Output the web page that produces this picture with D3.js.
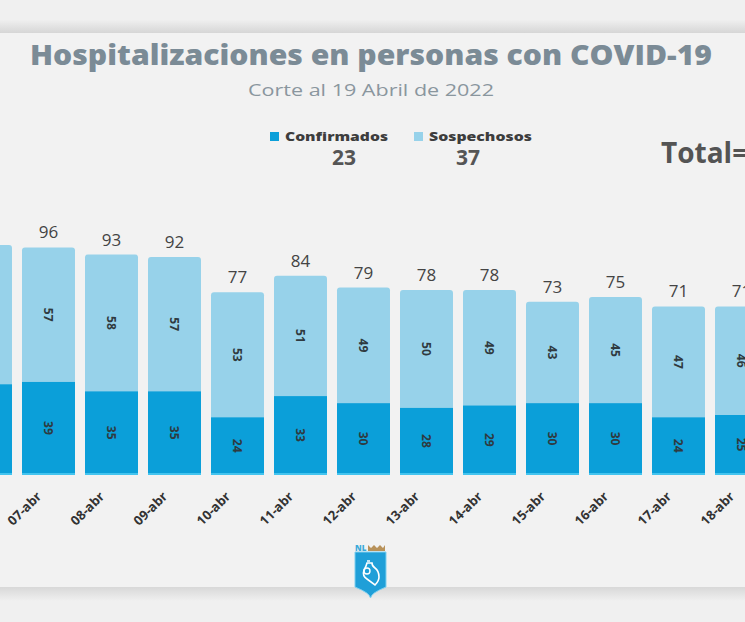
<!DOCTYPE html>
<html>
<head>
<meta charset="utf-8">
<script src="https://cdn.jsdelivr.net/npm/d3@7"></script>
<style>
  html, body { margin: 0; padding: 0; background: #efefef; }
  #graphicContainer { width: 745px; height: 622px; overflow: hidden; }
  text { font-family: "Open Sans", sans-serif; }
</style>
</head>
<body>
<div id="graphicContainer"></div>
<script>
var fechas = ["06-abr", "07-abr", "08-abr", "09-abr", "10-abr", "11-abr", "12-abr", "13-abr", "14-abr", "15-abr", "16-abr", "17-abr", "18-abr", "19-abr"]
var confirmados = [38, 39, 35, 35, 24, 33, 30, 28, 29, 30, 30, 24, 25, 23]
var sospechosos = [59, 57, 58, 57, 53, 51, 49, 50, 49, 43, 45, 47, 46, 37]
var yTicks = [0, 100]

var colorConf = "#0b9fd9"
var colorSosp = "#97d2ea"

var width = 745
var height = 622

var data = fechas.map(function (d, i) {
  return { fecha: d, conf: confirmados[i], sosp: sospechosos[i], total: confirmados[i] + sospechosos[i] }
})
var ultimo = data[data.length - 1]

var svg = d3.select("#graphicContainer").append("svg")
  .attr("width", width)
  .attr("height", height)

var defs = svg.append("defs")
var g1 = defs.append("linearGradient").attr("id", "sombraTop").attr("x1", 0).attr("y1", 0).attr("x2", 0).attr("y2", 1)
g1.append("stop").attr("offset", "0%").attr("stop-color", "#efefef")
g1.append("stop").attr("offset", "100%").attr("stop-color", "#d6d6d6")
var g2 = defs.append("linearGradient").attr("id", "sombraBot").attr("x1", 0).attr("y1", 0).attr("x2", 0).attr("y2", 1)
g2.append("stop").attr("offset", "0%").attr("stop-color", "#d8d8d8")
g2.append("stop").attr("offset", "100%").attr("stop-color", "#f0f0f0")

// fondo / tarjeta
svg.append("rect").attr("x", 0).attr("y", 0).attr("width", width).attr("height", height).attr("fill", "#f0f0f0")
svg.append("rect").attr("x", 0).attr("y", 20).attr("width", width).attr("height", 13).attr("fill", "url(#sombraTop)")
svg.append("rect").attr("x", 0).attr("y", 33).attr("width", width).attr("height", 554).attr("fill", "#f2f2f2")
svg.append("rect").attr("x", 0).attr("y", 587).attr("width", width).attr("height", 14).attr("fill", "url(#sombraBot)")

// titulos
svg.append("text")
  .attr("x", 371).attr("y", 65)
  .attr("text-anchor", "middle")
  .attr("textLength", 682)
  .attr("lengthAdjust", "spacingAndGlyphs")
  .style("font-size", "28px").style("font-weight", 800)
  .attr("fill", "#7b8b96")
  .text("Hospitalizaciones en personas con COVID-19")

svg.append("text")
  .attr("x", 371).attr("y", 96)
  .attr("text-anchor", "middle")
  .attr("textLength", 246)
  .attr("lengthAdjust", "spacingAndGlyphs")
  .style("font-size", "17px")
  .attr("fill", "#8a969e")
  .text("Corte al 19 Abril de 2022")

// leyenda
var leyenda = [
  { nombre: "Confirmados", color: colorConf, valor: ultimo.conf, x: 270, w: 103, cx: 344 },
  { nombre: "Sospechosos", color: colorSosp, valor: ultimo.sosp, x: 414, w: 103, cx: 468 }
]
var key = svg.selectAll(".key").data(leyenda).enter().append("g").attr("class", "key")
key.append("rect")
  .attr("x", d => d.x).attr("y", 132)
  .attr("width", 9).attr("height", 9)
  .attr("fill", d => d.color)
key.append("text")
  .attr("x", d => d.x + 15).attr("y", 141)
  .attr("textLength", d => d.w)
  .attr("lengthAdjust", "spacingAndGlyphs")
  .style("font-size", "12px").style("font-weight", 800)
  .attr("fill", "#3d3d3d")
  .text(d => d.nombre)
key.append("text")
  .attr("x", d => d.cx).attr("y", 165)
  .attr("text-anchor", "middle")
  .style("font-size", "21px").style("font-weight", 700)
  .attr("fill", "#555")
  .text(d => d.valor)

svg.append("text")
  .attr("x", 661).attr("y", 163)
  .style("font-size", "28px").style("font-weight", 700)
  .attr("fill", "#545454")
  .text("Total=" + ultimo.total)

// escalas
var x = d3.scaleBand()
  .domain(fechas)
  .range([-46, -46 + fechas.length * 63])
  .paddingInner(0.159)
  .paddingOuter(0.0795)

var y = d3.scaleLinear().domain(d3.extent(yTicks)).range([474, 238])

var features = svg.append("g")

// barras sospechosos (total)
features.selectAll(".barSosp")
  .data(data)
  .enter().append("rect")
  .attr("class", "barSosp")
  .attr("x", d => x(d.fecha))
  .attr("y", d => y(d.total))
  .attr("width", x.bandwidth())
  .attr("height", d => y(0) - y(d.total))
  .attr("rx", 3)
  .attr("fill", colorSosp)

features.selectAll(".barConf")
  .data(data)
  .enter().append("rect")
  .attr("class", "barConf")
  .attr("x", d => x(d.fecha))
  .attr("y", d => y(d.conf))
  .attr("width", x.bandwidth())
  .attr("height", d => y(0) - y(d.conf))
  .attr("fill", colorConf)

features.selectAll(".barBase")
  .data(data)
  .enter().append("rect")
  .attr("class", "barBase")
  .attr("x", d => x(d.fecha))
  .attr("y", y(0) - 1)
  .attr("width", x.bandwidth())
  .attr("height", 2)
  .attr("fill", "#43c4ef")

// etiquetas dentro de las barras
function segLabel(cls, val, y0, y1) {
  features.selectAll("." + cls)
    .data(data)
    .enter().append("text")
    .attr("class", cls)
    .attr("transform", d => "translate(" + (x(d.fecha) + x.bandwidth() / 2) + "," + ((y(y0(d)) + y(y1(d))) / 2) + ") rotate(90)")
    .attr("text-anchor", "middle")
    .attr("dy", "0.35em")
    .style("font-size", "12px").style("font-weight", 700)
    .attr("fill", "#2f3a40")
    .text(val)
}
segLabel("labConf", d => d.conf, d => 0, d => d.conf)
segLabel("labSosp", d => d.sosp, d => d.conf, d => d.total)

features.selectAll(".barNumber")
  .data(data)
  .enter().append("text")
  .attr("class", "barNumber")
  .attr("x", d => x(d.fecha) + x.bandwidth() / 2)
  .attr("y", d => y(d.total) - 9)
  .attr("text-anchor", "middle")
  .style("font-size", "17px")
  .attr("fill", "#444")
  .text(d => d.total)

// eje x
var xAxis = d3.axisBottom(x).tickSize(0).tickPadding(0)
var gx = svg.append("g")
  .attr("class", "x")
  .attr("transform", "translate(0," + y(0) + ")")
  .call(xAxis)
gx.select(".domain").remove()
gx.selectAll(".tick text")
  .attr("x", -21).attr("y", 12).attr("dy", 0)
  .attr("transform", "rotate(-45)")
  .style("text-anchor", "end")
  .style("font-family", "'Open Sans', sans-serif")
  .style("font-size", "13px").style("font-weight", 700)
  .attr("fill", "#333")

// logo
var logo = svg.append("g").attr("transform", "translate(371,0)")
logo.append("path")
  .attr("d", "M-16,552 L15,552 L15,587 Q0,593 -0.5,598 Q-1,593 -16,587 Z")
  .attr("fill", "#1f9fd8").attr("stroke", "#7fd0f0").attr("stroke-width", 1)
logo.append("text")
  .attr("x", -16).attr("y", 551)
  .style("font-size", "8px").style("font-weight", 800)
  .attr("fill", "#3aa9d9")
  .text("NL")
logo.append("path")
  .attr("d", "M-3,551 L-3,545 L0,548 L3,545 L6,548 L9,545 L12,548 L14,545 L14,551 Z")
  .attr("fill", "#b8925a")
logo.append("path")
  .attr("d", "M-4,563 q-1,4 -3,7 q-2,6 3,9 q4,3 8,6 q4,-4 4,-8 q0,-6 -4,-9 q-3,-2 -3,-5 z M-4,561 l3,0")
  .attr("fill", "none").attr("stroke", "#fff").attr("stroke-width", 1.6)
logo.append("circle").attr("cx", -4).attr("cy", 571).attr("r", 3)
  .attr("fill", "none").attr("stroke", "#fff").attr("stroke-width", 1.4)
</script>
</body>
</html>
